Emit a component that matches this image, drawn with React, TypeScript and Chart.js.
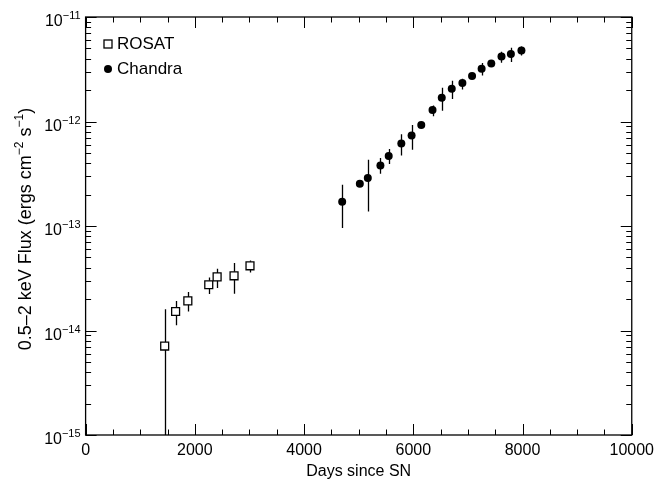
import React, { useEffect, useRef } from 'react';
import { Chart, registerables } from 'chart.js';

Chart.register(...registerables);

const FONT = '"Liberation Sans", Arial, Helvetica, sans-serif';

// ROSAT data (days since SN, flux, error range)
const rosatDays = [1448, 1648, 1872, 2255, 2408, 2718, 3010];
const rosatFlux = [7.1e-15, 1.52e-14, 1.92e-14, 2.74e-14, 3.26e-14, 3.34e-14, 4.16e-14];
const rosatLow = [1e-16, 1.12e-14, 1.52e-14, 2.23e-14, 2.55e-14, 2.25e-14, 3.59e-14];
const rosatHigh = [1.6e-14, 1.92e-14, 2.33e-14, 3.21e-14, 3.89e-14, 4.42e-14, 4.68e-14];

// Chandra data
const chandraDays = [4698, 5021, 5167, 5398, 5550, 5781, 5969, 6146, 6352, 6521, 6704, 6899, 7076, 7251, 7428, 7615, 7787, 7980];
const chandraFlux = [1.71e-13, 2.54e-13, 2.88e-13, 3.79e-13, 4.67e-13, 6.15e-13, 7.35e-13, 9.24e-13, 1.29e-12, 1.69e-12, 2.06e-12, 2.33e-12, 2.72e-12, 3.19e-12, 3.59e-12, 4.19e-12, 4.42e-12, 4.78e-12];
const chandraLow = [9.55e-14, 2.42e-13, 1.38e-13, 3.16e-13, 3.91e-13, 4.73e-13, 5.36e-13, 8.9e-13, 1.12e-12, 1.27e-12, 1.64e-12, 2.02e-12, 2.62e-12, 2.75e-12, 3.47e-12, 3.65e-12, 3.7e-12, 4.28e-12];
const chandraHigh = [2.48e-13, 2.66e-13, 4.3e-13, 4.47e-13, 5.45e-13, 7.57e-13, 9.24e-13, 9.6e-13, 1.42e-12, 2.1e-12, 2.45e-12, 2.56e-12, 2.84e-12, 3.62e-12, 3.72e-12, 4.65e-12, 5.07e-12, 5.22e-12];

// Axis ticks
const xMajorTicks = [0, 2000, 4000, 6000, 8000, 10000];
const xMinorTicks = [500, 1000, 1500, 2500, 3000, 3500, 4500, 5000, 5500, 6500, 7000, 7500, 8500, 9000, 9500];
const yDecadeExponents = [-15, -14, -13, -12, -11];
const yMinorMultipliers = [2, 3, 4, 5, 6, 7, 8, 9];

const xTitle = 'Days since SN';
const legendLabels = ['ROSAT', 'Chandra'];

const errorBarPlugin = {
  id: 'errorBars',
  beforeDatasetsDraw(chart: any) {
    const { ctx, chartArea, scales } = chart;
    const xs = scales.x;
    const ys = scales.y;
    ctx.save();
    ctx.beginPath();
    ctx.rect(chartArea.left, chartArea.top, chartArea.right - chartArea.left, chartArea.bottom - chartArea.top);
    ctx.clip();
    ctx.strokeStyle = '#000';
    ctx.lineWidth = 1.3;
    const drawSet = (days: number[], lo: number[], hi: number[]) => {
      days.forEach((d, i) => {
        const px = Math.round(xs.getPixelForValue(d)) + 0.5;
        const y1 = ys.getPixelForValue(lo[i]);
        const y2 = ys.getPixelForValue(hi[i]);
        ctx.beginPath();
        ctx.moveTo(px, Math.min(y1, chartArea.bottom + 5));
        ctx.lineTo(px, y2);
        ctx.stroke();
      });
    };
    drawSet(rosatDays, rosatLow, rosatHigh);
    drawSet(chandraDays, chandraLow, chandraHigh);
    ctx.restore();
  },
};

function drawRich(
  ctx: CanvasRenderingContext2D,
  parts: { t: string; sup?: boolean }[],
  x: number,
  y: number,
  align: 'left' | 'right' | 'center',
  mainSize: number,
  supSize: number,
  supRise: number
) {
  const main = `${mainSize}px ${FONT}`;
  const small = `${supSize}px ${FONT}`;
  let total = 0;
  const widths = parts.map((p) => {
    ctx.font = p.sup ? small : main;
    const w = ctx.measureText(p.t).width;
    total += w;
    return w;
  });
  let cx = align === 'left' ? x : align === 'right' ? x - total : x - total / 2;
  ctx.textAlign = 'left';
  ctx.textBaseline = 'alphabetic';
  parts.forEach((p, i) => {
    ctx.font = p.sup ? small : main;
    ctx.fillText(p.t, cx, p.sup ? y - supRise : y);
    cx += widths[i];
  });
}

const framePlugin = {
  id: 'frameAndDecor',
  afterDraw(chart: any) {
    const { ctx, chartArea, scales } = chart;
    const xs = scales.x;
    const ys = scales.y;
    const { left, right, top, bottom } = chartArea;
    ctx.save();
    ctx.strokeStyle = '#000';
    ctx.fillStyle = '#000';
    ctx.lineWidth = 1.3;
    ctx.strokeRect(left, top, right - left, bottom - top);

    const majorLen = 11;
    const minorLen = 5.5;
    ctx.lineWidth = 1;
    const vtick = (v: number, len: number) => {
      const px = Math.round(xs.getPixelForValue(v)) + 0.5;
      ctx.beginPath();
      ctx.moveTo(px, bottom);
      ctx.lineTo(px, bottom - len);
      ctx.moveTo(px, top);
      ctx.lineTo(px, top + len);
      ctx.stroke();
    };
    xMajorTicks.forEach((v) => vtick(v, majorLen));
    xMinorTicks.forEach((v) => vtick(v, minorLen));

    const htick = (v: number, len: number) => {
      const py = Math.round(ys.getPixelForValue(v)) + 0.5;
      ctx.beginPath();
      ctx.moveTo(left, py);
      ctx.lineTo(left + len, py);
      ctx.moveTo(right, py);
      ctx.lineTo(right - len, py);
      ctx.stroke();
    };
    yDecadeExponents.forEach((e) => {
      htick(Math.pow(10, e), majorLen);
      if (e < -11) {
        yMinorMultipliers.forEach((m) => htick(m * Math.pow(10, e), minorLen));
      }
    });

    // y tick labels
    yDecadeExponents.forEach((e) => {
      const py = ys.getPixelForValue(Math.pow(10, e));
      drawRich(ctx, [{ t: '10' }, { t: '\u2212' + String(Math.abs(e)), sup: true }], left - 5, py + 9, 'right', 16, 11, 7);
    });

    // y axis title
    ctx.save();
    ctx.translate(31, 229);
    ctx.rotate(-Math.PI / 2);
    drawRich(
      ctx,
      [
        { t: '0.5\u20132 keV Flux (ergs cm' },
        { t: '\u22122', sup: true },
        { t: ' s' },
        { t: '\u22121', sup: true },
        { t: ')' },
      ],
      0,
      0,
      'center',
      18,
      12,
      8
    );
    ctx.restore();

    // legend
    ctx.lineWidth = 1.3;
    ctx.strokeRect(104, 40, 8, 8);
    ctx.beginPath();
    ctx.arc(108, 69, 4, 0, Math.PI * 2);
    ctx.fill();
    ctx.font = `17px ${FONT}`;
    ctx.textAlign = 'left';
    ctx.textBaseline = 'middle';
    ctx.fillText(legendLabels[0], 117, 44.5);
    ctx.fillText(legendLabels[1], 117, 69.5);
    ctx.restore();
  },
};

export default function App() {
  const canvasRef = useRef<HTMLCanvasElement | null>(null);

  useEffect(() => {
    if (!canvasRef.current) return;
    const chart = new Chart(canvasRef.current, {
      type: 'scatter',
      data: {
        datasets: [
          {
            label: legendLabels[0],
            data: rosatDays.map((d, i) => ({ x: d, y: rosatFlux[i] })),
            pointStyle: 'rect',
            pointRadius: 5.6,
            pointHoverRadius: 5.6,
            pointBackgroundColor: '#fff',
            pointBorderColor: '#000',
            pointBorderWidth: 1.3,
            showLine: false,
          },
          {
            label: legendLabels[1],
            data: chandraDays.map((d, i) => ({ x: d, y: chandraFlux[i] })),
            pointStyle: 'circle',
            pointRadius: 4,
            pointHoverRadius: 4,
            pointBackgroundColor: '#000',
            pointBorderColor: '#000',
            pointBorderWidth: 0,
            showLine: false,
          },
        ],
      },
      options: {
        animation: false,
        responsive: false,
        events: [],
        layout: { padding: { top: 17, right: 26, left: 0, bottom: 0 } },
        plugins: {
          legend: { display: false },
          tooltip: { enabled: false },
        },
        scales: {
          x: {
            type: 'linear',
            min: 0,
            max: 10000,
            afterBuildTicks: (scale: any) => {
              scale.ticks = xMajorTicks.map((v) => ({ value: v }));
            },
            ticks: {
              font: { family: FONT, size: 16 },
              color: '#000',
              padding: 6,
              maxRotation: 0,
              autoSkip: false,
              callback: (v: any) => String(v),
            },
            grid: { display: false, drawTicks: false },
            border: { display: false },
            title: {
              display: true,
              text: xTitle,
              font: { family: FONT, size: 16 },
              color: '#000',
              padding: { top: 0, bottom: 2 },
            },
            afterFit: (scale: any) => {
              scale.height = 48;
            },
          },
          y: {
            type: 'logarithmic',
            min: 1e-15,
            max: 1e-11,
            ticks: { display: false },
            grid: { display: false, drawTicks: false },
            border: { display: false },
            afterFit: (scale: any) => {
              scale.width = 85.6;
            },
          },
        },
      },
      plugins: [errorBarPlugin, framePlugin],
    } as any);
    return () => chart.destroy();
  }, []);

  return (
    <div style={{ position: 'absolute', left: 0, top: 0, width: 660, height: 483, background: '#fff' }}>
      <canvas ref={canvasRef} width={660} height={483} style={{ display: 'block' }} />
    </div>
  );
}
